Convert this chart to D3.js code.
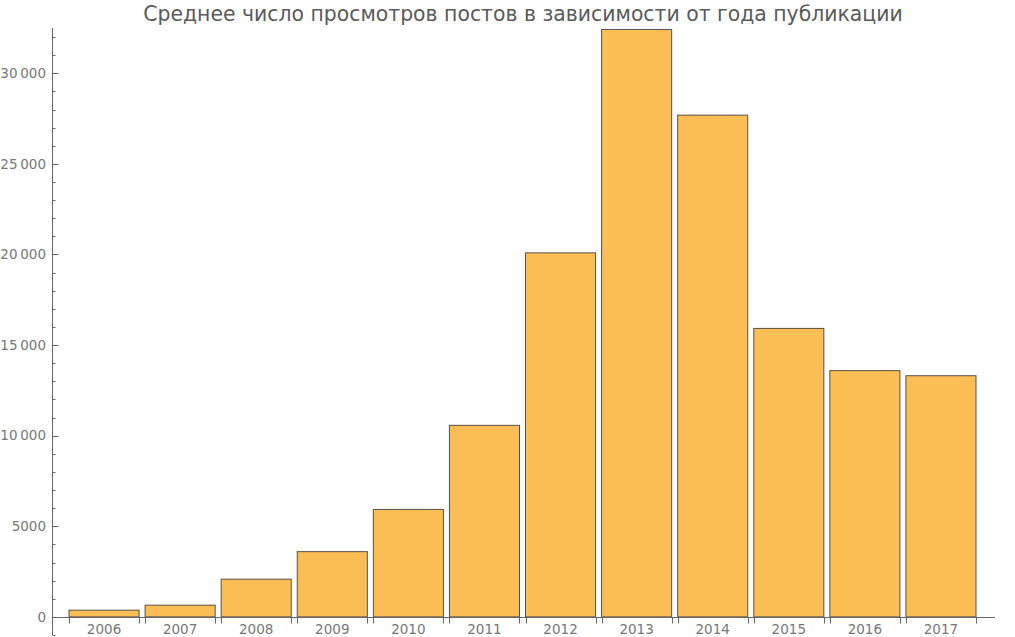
<!DOCTYPE html>
<html><head><meta charset="utf-8">
<script src="https://cdn.jsdelivr.net/npm/d3@7"></script>
<style>body{margin:0;background:#fff}svg{display:block}</style>
</head><body>
<svg id="c" width="1015" height="637"></svg>
<script>
const title = "Среднее число просмотров постов в зависимости от года публикации";
const years = ["2006","2007","2008","2009","2010","2011","2012","2013","2014","2015","2016","2017"];
const views = [370, 645, 2080, 3600, 5930, 10570, 20090, 32420, 27690, 15920, 13590, 13310];
const yTicks = [0, 5000, 10000, 15000, 20000, 25000, 30000];
const yTickLabels = ["0", "5000", "10\u2009000", "15\u2009000", "20\u2009000", "25\u2009000", "30\u2009000"];

const svg = d3.select("#c");
const axisColor = "#666";
const font = "DejaVu Sans, sans-serif";

const y = d3.scaleLinear().domain([-1000, 32500]).range([635, 28]);
const x = d3.scaleBand().domain(years).range([66, 979]).paddingInner(6/76).paddingOuter(3/76);

// bars
svg.append("g").selectAll("rect").data(years).join("rect")
  .attr("x", d => x(d))
  .attr("y", (d,i) => y(views[i]))
  .attr("width", x.bandwidth())
  .attr("height", (d,i) => y(0) - y(views[i]))
  .attr("fill", "#FABE55")
  .attr("stroke", "#5a5046")
  .attr("stroke-width", 1);

// y axis
const yAxisX = 52;
const gy = svg.append("g").attr("transform", `translate(${yAxisX},0)`);
gy.append("line").attr("x1",0.5).attr("x2",0.5).attr("y1", y(-1000)).attr("y2", y(32500))
  .attr("stroke", axisColor);
const minor = d3.range(-1000, 32001, 1000).filter(v => v % 5000 !== 0);
gy.selectAll("line.mi").data(minor).join("line").attr("class","mi")
  .attr("x1",0.5).attr("x2",3.5).attr("y1",d=>Math.round(y(d))+0.5).attr("y2",d=>Math.round(y(d))+0.5)
  .attr("stroke", axisColor);
gy.selectAll("line.ma").data(yTicks).join("line").attr("class","ma")
  .attr("x1",0.5).attr("x2",6.5).attr("y1",d=>Math.round(y(d))+0.5).attr("y2",d=>Math.round(y(d))+0.5)
  .attr("stroke", axisColor);
gy.selectAll("text").data(yTicks).join("text")
  .attr("x",-6).attr("y",d=>y(d)).attr("dy","0.35em")
  .attr("text-anchor","end").attr("font-family",font).attr("font-size",13.5)
  .attr("fill","#777").text((d,i)=>yTickLabels[i]);

// x axis
const zy = Math.round(y(0)) + 0.5;
svg.append("line").attr("x1", yAxisX).attr("x2", 995).attr("y1", zy).attr("y2", zy).attr("stroke", axisColor);
const edges = [];
years.forEach(d => { edges.push(x(d)); edges.push(x(d)+x.bandwidth()); });
svg.append("g").selectAll("line").data(edges).join("line")
  .attr("x1",d=>Math.round(d)+0.5).attr("x2",d=>Math.round(d)+0.5).attr("y1",zy).attr("y2",zy+6)
  .attr("stroke", axisColor);
svg.append("g").selectAll("text").data(years).join("text")
  .attr("x", d => x(d) + x.bandwidth()/2).attr("y", 634)
  .attr("text-anchor","middle").attr("font-family",font).attr("font-size",13.5)
  .attr("fill","#777").text(d=>d);

// title
svg.append("text").attr("x", 523).attr("y", 21).attr("text-anchor","middle")
  .attr("font-family",font).attr("font-size",20.4).attr("fill","#5a5a5a").text(title);
</script>
</body></html>
